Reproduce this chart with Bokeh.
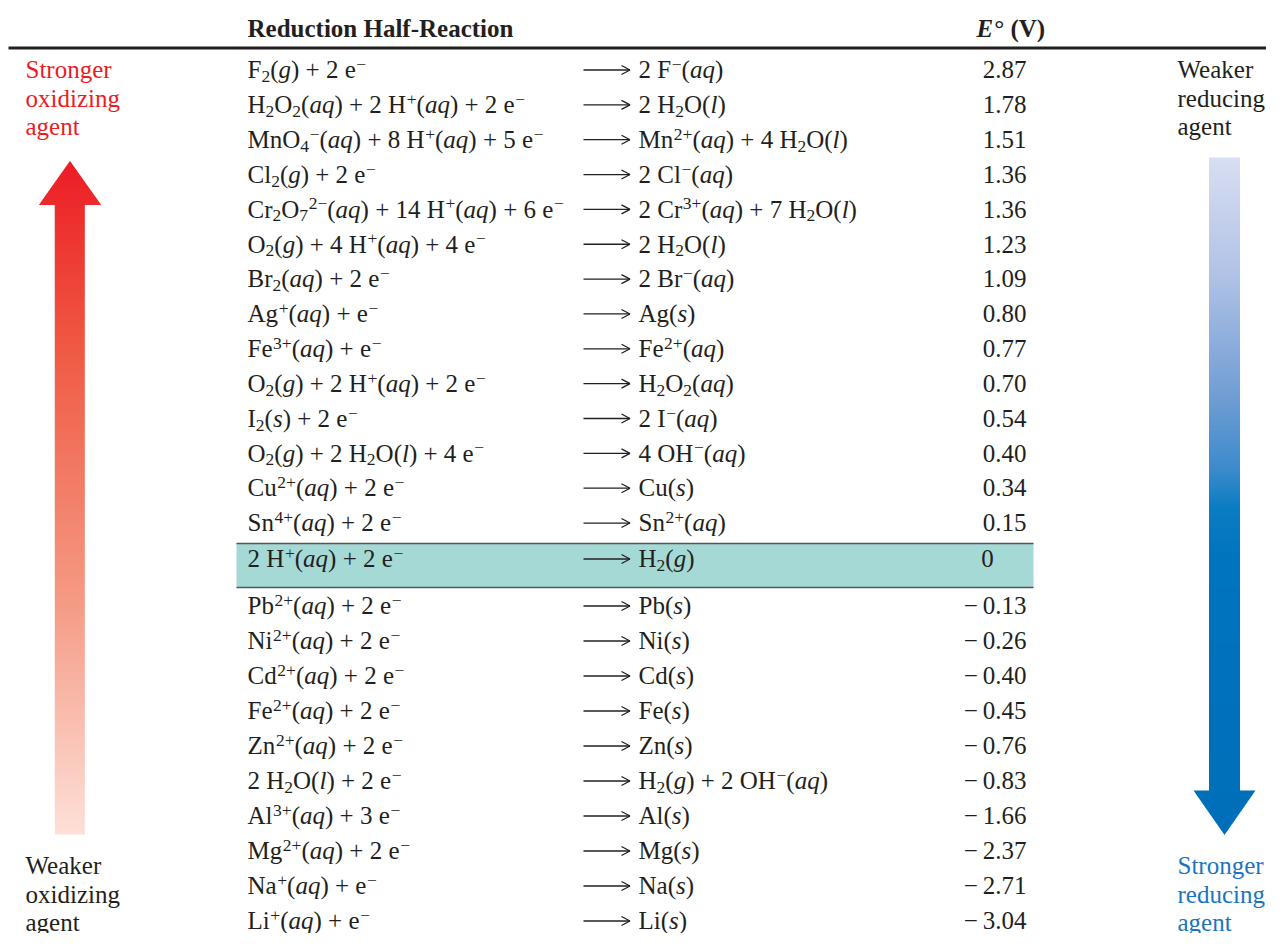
from bokeh.plotting import figure
from bokeh.models import Range1d, ColumnDataSource
from bokeh.core.properties import value
from bokeh.embed import file_html
from bokeh.resources import INLINE

# ---------------- data ----------------
# markup: _x / _{..} subscript, ^x / ^{..} superscript, *..* italic
reactants = [
    "F_2(*g*) + 2 e^−",
    "H_2O_2(*aq*) + 2 H^+(*aq*) + 2 e^−",
    "MnO_4^−(*aq*) + 8 H^+(*aq*) + 5 e^−",
    "Cl_2(*g*) + 2 e^−",
    "Cr_2O_7^{2−}(*aq*) + 14 H^+(*aq*) + 6 e^−",
    "O_2(*g*) + 4 H^+(*aq*) + 4 e^−",
    "Br_2(*aq*) + 2 e^−",
    "Ag^+(*aq*) + e^−",
    "Fe^{3+}(*aq*) + e^−",
    "O_2(*g*) + 2 H^+(*aq*) + 2 e^−",
    "I_2(*s*) + 2 e^−",
    "O_2(*g*) + 2 H_2O(*l*) + 4 e^−",
    "Cu^{2+}(*aq*) + 2 e^−",
    "Sn^{4+}(*aq*) + 2 e^−",
    "2 H^+(*aq*) + 2 e^−",
    "Pb^{2+}(*aq*) + 2 e^−",
    "Ni^{2+}(*aq*) + 2 e^−",
    "Cd^{2+}(*aq*) + 2 e^−",
    "Fe^{2+}(*aq*) + 2 e^−",
    "Zn^{2+}(*aq*) + 2 e^−",
    "2 H_2O(*l*) + 2 e^−",
    "Al^{3+}(*aq*) + 3 e^−",
    "Mg^{2+}(*aq*) + 2 e^−",
    "Na^+(*aq*) + e^−",
    "Li^+(*aq*) + e^−",
]
products = [
    "2 F^−(*aq*)",
    "2 H_2O(*l*)",
    "Mn^{2+}(*aq*) + 4 H_2O(*l*)",
    "2 Cl^−(*aq*)",
    "2 Cr^{3+}(*aq*) + 7 H_2O(*l*)",
    "2 H_2O(*l*)",
    "2 Br^−(*aq*)",
    "Ag(*s*)",
    "Fe^{2+}(*aq*)",
    "H_2O_2(*aq*)",
    "2 I^−(*aq*)",
    "4 OH^−(*aq*)",
    "Cu(*s*)",
    "Sn^{2+}(*aq*)",
    "H_2(*g*)",
    "Pb(*s*)",
    "Ni(*s*)",
    "Cd(*s*)",
    "Fe(*s*)",
    "Zn(*s*)",
    "H_2(*g*) + 2 OH^−(*aq*)",
    "Al(*s*)",
    "Mg(*s*)",
    "Na(*s*)",
    "Li(*s*)",
]
potentials = [2.87, 1.78, 1.51, 1.36, 1.36, 1.23, 1.09, 0.80, 0.77, 0.70, 0.54,
              0.40, 0.34, 0.15, 0.0, -0.13, -0.26, -0.40, -0.45, -0.76, -0.83,
              -1.66, -2.37, -2.71, -3.04]
HIGHLIGHT = 14
header_left = "Reduction Half-Reaction"
header_E = "E"
header_unit = "° (V)"
left_top = ["Stronger", "oxidizing", "agent"]
left_bottom = ["Weaker", "oxidizing", "agent"]
right_top = ["Weaker", "reducing", "agent"]
right_bottom = ["Stronger", "reducing", "agent"]

# ---------------- style ----------------
FONT = "Liberation Serif"
FS = 25
SCRIPT = 0.7
DARK = "#231f20"
RED = "#ec1c24"
BLUE = "#1b75bc"
BL = 0.31   # renderer places glyphs this fraction of the size below the given y

W, H = 1266, 933

ROMAN = {' ': 250, '(': 333, ')': 333, '+': 564, '−': 564, '-': 333, '.': 250,
         '°': 400, 'A': 722, 'B': 667, 'C': 667, 'D': 722, 'E': 611, 'F': 556,
         'G': 722, 'H': 722, 'I': 333, 'L': 611, 'M': 889, 'N': 722, 'O': 722,
         'P': 556, 'S': 556, 'Z': 611, 'a': 444, 'b': 500, 'c': 444, 'd': 500,
         'e': 444, 'g': 500, 'i': 278, 'l': 278, 'n': 500, 'q': 500, 'r': 333,
         's': 389, 'u': 500}
for d in "0123456789":
    ROMAN[d] = 500
ITALIC = {'a': 500, 'q': 500, 'g': 500, 'l': 278, 's': 389}


def parse(s):
    segs, buf, italic, i = [], "", False, 0

    def flush():
        nonlocal buf
        if buf:
            segs.append((buf, "i" if italic else "n"))
            buf = ""
    while i < len(s):
        c = s[i]
        if c == "*":
            flush()
            italic = not italic
            i += 1
        elif c in "_^":
            flush()
            kind = "sub" if c == "_" else "sup"
            if s[i + 1] == "{":
                j = s.index("}", i)
                segs.append((s[i + 2:j], kind))
                i = j + 1
            else:
                segs.append((s[i + 1], kind))
                i += 2
        else:
            buf += c
            i += 1
    flush()
    return segs


groups = {k: dict(x=[], y=[], text=[]) for k in ("n", "i", "sub", "sup")}


def layout(s, x0, y0):
    x = x0
    for txt, kind in parse(s):
        scale = SCRIPT if kind in ("sub", "sup") else 1.0
        dy = 4.5 if kind == "sub" else (-7.5 if kind == "sup" else 0.0)
        pre = 0.6 if kind == "sup" else 0.0
        table = ITALIC if kind == "i" else ROMAN
        w = sum(table.get(c, ROMAN.get(c, 500)) for c in txt) / 1000.0 * FS * scale
        g = groups[kind]
        g["x"].append(x + pre)
        g["y"].append(y0 + dy - BL * FS * scale)
        g["text"].append(txt)
        x += w + pre


def baseline(i):
    if i < HIGHLIGHT:
        return 77 + 34.85 * i
    if i == HIGHLIGHT:
        return 566
    return 613 + 35.0 * (i - HIGHLIGHT - 1)


p = figure(width=W, height=H, x_range=Range1d(0, W), y_range=Range1d(H, 0),
           output_backend="svg", toolbar_location=None, min_border=0,
           x_axis_location=None, y_axis_location=None, outline_line_color=None,
           background_fill_color="white", border_fill_color="white")
p.xgrid.grid_line_color = None
p.ygrid.grid_line_color = None

n = len(reactants)
rows_y = [baseline(i) for i in range(n)]
SH = BL * FS  # baseline compensation for full-size text

# highlighted standard hydrogen row
hy = rows_y[HIGHLIGHT]
p.quad(left=[236], right=[1033], top=[hy - 23], bottom=[hy + 21],
       fill_color="#a4d9d5", line_color=None)
p.segment(x0=[236, 236], x1=[1033, 1033], y0=[hy - 23, hy + 21], y1=[hy - 23, hy + 21],
          line_color="#555555", line_width=1.5)

# header
p.text(x=[247], y=[36 - SH], text=[header_left], text_font=value(FONT), text_font_size=f"{FS}px",
       text_font_style="bold", text_color=DARK, text_baseline="alphabetic", text_align="left")
p.text(x=[976], y=[36 - SH], text=[header_E], text_font=value(FONT), text_font_size=f"{FS}px",
       text_font_style="bold italic", text_color=DARK, text_baseline="alphabetic", text_align="left")
p.text(x=[976 + 0.667 * FS + 1], y=[36 - SH], text=[header_unit], text_font=value(FONT),
       text_font_size=f"{FS}px", text_font_style="bold", text_color=DARK,
       text_baseline="alphabetic", text_align="left")
p.segment(x0=[8], x1=[W], y0=[47.5], y1=[47.5], line_color=DARK, line_width=3)

# reaction text
for i in range(n):
    layout(reactants[i], 247, rows_y[i])
    layout(products[i], 638, rows_y[i])

styles = {"n": (f"{FS}px", "normal"), "i": (f"{FS}px", "italic"),
          "sub": (f"{FS * SCRIPT}px", "normal"), "sup": (f"{FS * SCRIPT}px", "normal")}
for k, g in groups.items():
    size, style = styles[k]
    p.text(x="x", y="y", text="text", source=ColumnDataSource(g), text_font=value(FONT),
           text_font_size=size, text_font_style=style, text_color=DARK,
           text_baseline="alphabetic", text_align="left")

# long arrows
ay = [y - 7.5 for y in rows_y]
p.segment(x0=[583] * n, x1=[629] * n, y0=ay, y1=ay, line_color=DARK, line_width=1.3)
p.segment(x0=[629.5] * n, x1=[621] * n, y0=ay, y1=[y - 4.5 for y in ay], line_color=DARK, line_width=1.3)
p.segment(x0=[629.5] * n, x1=[621] * n, y0=ay, y1=[y + 4.5 for y in ay], line_color=DARK, line_width=1.3)

# potentials
vx, vy, vt = [], [], []
zx, zy, zt = [], [], []
for i, v in enumerate(potentials):
    if v == 0:
        zx.append(987); zy.append(rows_y[i] - SH); zt.append("0")
    elif v < 0:
        vx.append(1026); vy.append(rows_y[i] - SH); vt.append("−\u2009" + f"{-v:.2f}")
    else:
        vx.append(1026); vy.append(rows_y[i] - SH); vt.append(f"{v:.2f}")
p.text(x=vx, y=vy, text=vt, text_font=value(FONT), text_font_size=f"{FS}px", text_color=DARK,
       text_baseline="alphabetic", text_align="right")
p.text(x=zx, y=zy, text=zt, text_font=value(FONT), text_font_size=f"{FS}px", text_color=DARK,
       text_baseline="alphabetic", text_align="center")

# side labels
lab_top = [77, 105.5, 134]
lab_bot = [873, 901.5, 930]
for txts, x, ys, col in [(left_top, 25, lab_top, RED), (left_bottom, 25, lab_bot, DARK),
                         (right_top, 1177, lab_top, DARK), (right_bottom, 1177, lab_bot, BLUE)]:
    p.text(x=[x] * 3, y=[y - SH for y in ys], text=txts, text_font=value(FONT),
           text_font_size=f"{FS}px", text_color=col, text_baseline="alphabetic",
           text_align="left")


# gradient arrows
def hex2rgb(h):
    h = h.lstrip("#")
    return [int(h[j:j + 2], 16) for j in (0, 2, 4)]


def grad(stops, y):
    for (y0, c0), (y1, c1) in zip(stops[:-1], stops[1:]):
        if y0 <= y <= y1:
            t = (y - y0) / (y1 - y0) if y1 > y0 else 0
            a, b = hex2rgb(c0), hex2rgb(c1)
            return "#%02x%02x%02x" % tuple(int(round(a[k] + (b[k] - a[k]) * t)) for k in range(3))
    return stops[-1][1] if y > stops[-1][0] else stops[0][1]


def shaft(xl, xr, y_top, y_bot, stops, step=2.0):
    tops, bots, cols = [], [], []
    y = y_top
    while y < y_bot:
        y2 = min(y + step, y_bot)
        tops.append(y); bots.append(min(y2 + 0.6, y_bot)); cols.append(grad(stops, (y + y2) / 2))
        y = y2
    p.quad(left=xl, right=xr, top=tops, bottom=bots, fill_color=cols, line_color=None)


red_stops = [(160, "#ec1c24"), (350, "#f05a44"), (600, "#f59a84"), (834, "#fde0d8")]
shaft(54.3, 84.3, 203, 834, red_stops)
# red head (gradient strips)
hxs, hys, hcs = [], [], []
tip_y, base_y, cx, half = 160.5, 204.5, 69.5, 31.2
y = tip_y
while y < base_y:
    y2 = min(y + 2, base_y)
    yb = min(y2 + 0.6, base_y)
    w1 = half * (y - tip_y) / (base_y - tip_y)
    w2 = half * (yb - tip_y) / (base_y - tip_y)
    hxs.append([cx - w1, cx + w1, cx + w2, cx - w2])
    hys.append([y, y, yb, yb])
    hcs.append(grad(red_stops, (y + y2) / 2))
    y = y2
p.patches(xs=hxs, ys=hys, fill_color=hcs, line_color=None)

blue_stops = [(157, "#d8def2"), (275, "#b0c2e6"), (400, "#6e9cd3"), (470, "#3b8acb"),
              (507, "#0a7dc3"), (560, "#0074bf"), (834, "#006fba")]
shaft(1208.5, 1239.5, 157, 791, blue_stops)
p.patch(x=[1193, 1255, 1224], y=[790, 790, 834.5], fill_color="#006fba", line_color=None)

open("out.html", "w").write(file_html(p, INLINE))
